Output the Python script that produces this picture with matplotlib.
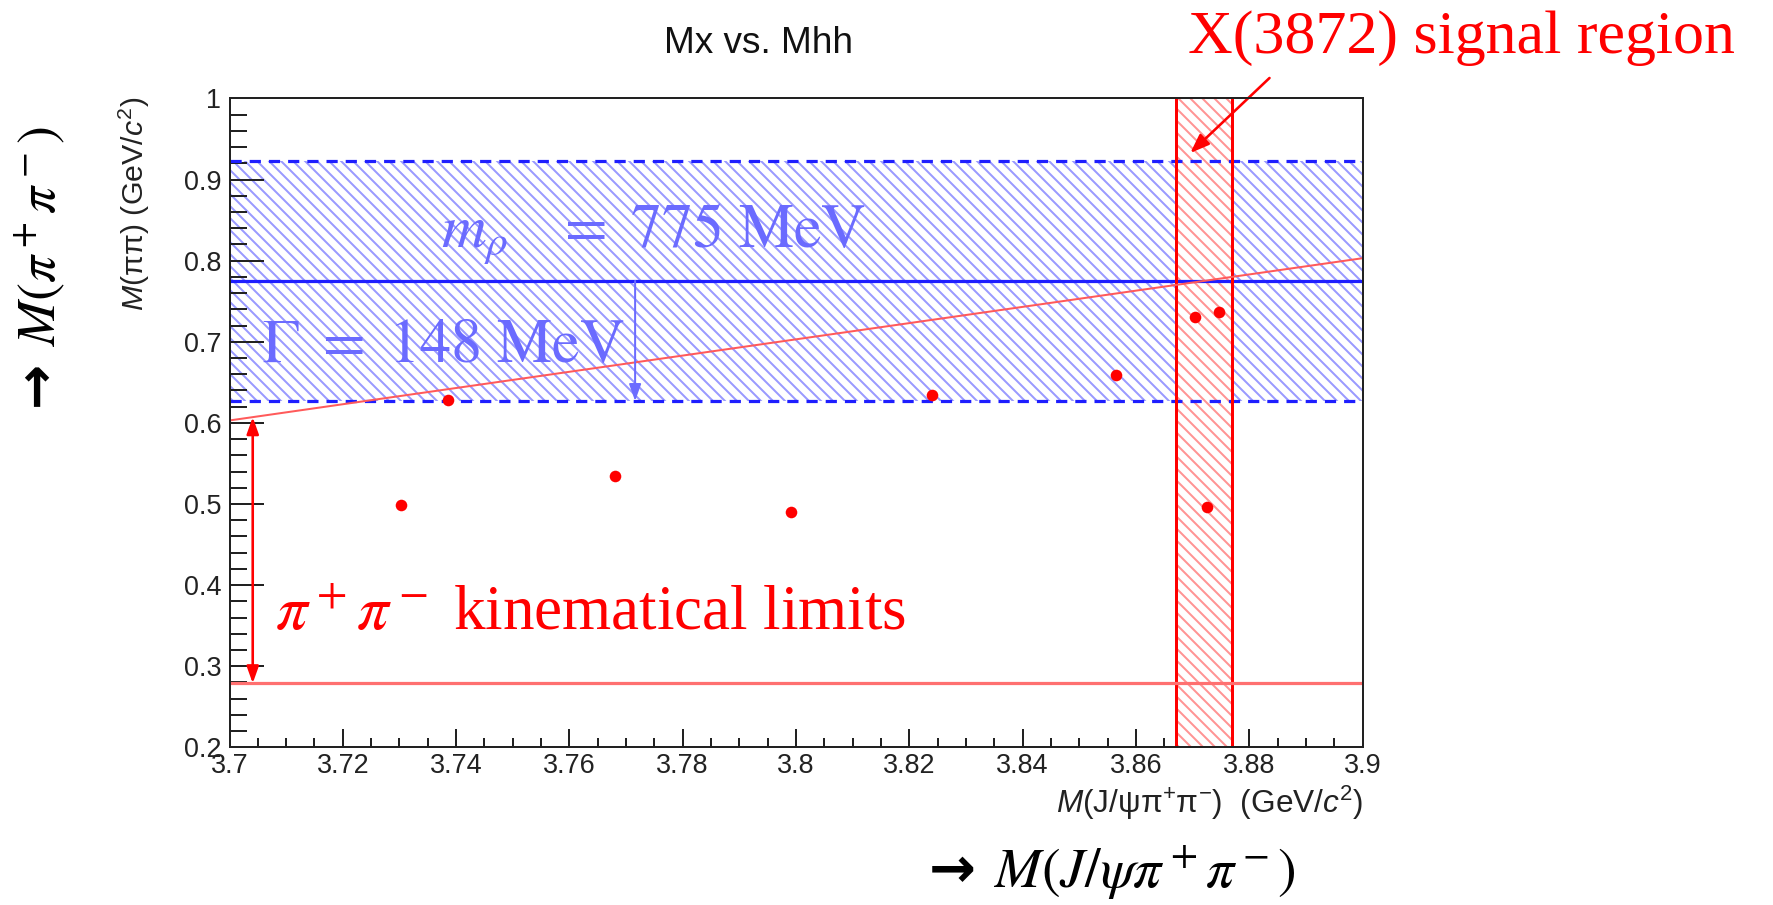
import matplotlib
matplotlib.use("Agg")
import matplotlib.pyplot as plt
from matplotlib.ticker import FixedLocator, MultipleLocator, FixedFormatter
import numpy as np

# ---------------- data ----------------
m_jpsipipi = [3.7303, 3.7386, 3.7680, 3.7991, 3.8240, 3.8565, 3.8704, 3.8746, 3.8725]
m_pipi     = [0.499, 0.628, 0.535, 0.490, 0.634, 0.659, 0.731, 0.737, 0.496]

x_range = [3.70, 3.90]
y_range = [0.20, 1.00]
m_rho = 0.775
gamma_rho = 0.148
m_pipi_min = 0.279
m_jpsi = 3.097
x3872_window = [3.867, 3.877]

x_ticks = [3.70, 3.72, 3.74, 3.76, 3.78, 3.80, 3.82, 3.84, 3.86, 3.88, 3.90]
x_tick_labels = ["3.7", "3.72", "3.74", "3.76", "3.78", "3.8", "3.82", "3.84", "3.86", "3.88", "3.9"]
y_ticks = [0.2, 0.3, 0.4, 0.5, 0.6, 0.7, 0.8, 0.9, 1.0]
y_tick_labels = ["0.2", "0.3", "0.4", "0.5", "0.6", "0.7", "0.8", "0.9", "1"]

title = "Mx vs. Mhh"
x_label = r"$M$(J/ψπ$^{+}$π$^{-}$)  (GeV/$c^{2}$)"
y_label = r"$M$(ππ) (GeV/$c^{2}$)"

# ---------------- style ----------------
plt.rcParams["font.family"] = ["Liberation Sans", "DejaVu Sans"]
plt.rcParams["mathtext.fontset"] = "custom"
plt.rcParams["mathtext.rm"] = "Liberation Sans"
plt.rcParams["mathtext.it"] = "Liberation Sans:italic"
plt.rcParams["mathtext.bf"] = "Liberation Sans:bold"
plt.rcParams["hatch.linewidth"] = 1.0

W, H, DPI = 1773, 905, 144
fig = plt.figure(figsize=(W / DPI, H / DPI), dpi=DPI)
ax = fig.add_axes([229.5 / W, (H - 747.4) / H, 1133 / W, 649 / H])

BLUE = "#1e1eff"
BLUE_HATCH = "#9a9aff"
BLUE_TEXT = "#6b6bff"
RED = "#ff0000"
HATCH = "\\\\\\\\"

# rho band (hatched)
ax.axhspan(m_rho - gamma_rho, m_rho + gamma_rho, facecolor="none",
           edgecolor=BLUE_HATCH, hatch=HATCH, lw=0, zorder=1)
ax.axhline(m_rho, color=BLUE, lw=1.6, zorder=3)
for yv in (m_rho - gamma_rho, m_rho + gamma_rho):
    ax.axhline(yv, color=BLUE, lw=1.6, dashes=(3.5, 2.5), zorder=3)

# X(3872) signal window
ax.axvspan(x3872_window[0], x3872_window[1], facecolor="white",
           edgecolor="#ff9494", hatch=HATCH, lw=0, zorder=2, alpha=1.0)
for xv in x3872_window:
    ax.axvline(xv, color=RED, lw=1.5, zorder=4)

# kinematic limits
xl = np.array(x_range)
ax.plot(xl, xl - m_jpsi, color="#ff5a5a", lw=1.0, zorder=4)
ax.axhline(m_pipi_min, color="#ff7070", lw=1.6, zorder=4)

# data points
ax.plot(m_jpsipipi, m_pipi, "o", color=RED, ms=5.8, mec="none", zorder=6)

ax.set_xlim(x_range)
ax.set_ylim(y_range)

ax.xaxis.set_major_locator(FixedLocator(x_ticks))
ax.xaxis.set_major_formatter(FixedFormatter(x_tick_labels))
ax.xaxis.set_minor_locator(MultipleLocator(0.005))
ax.yaxis.set_major_locator(FixedLocator(y_ticks))
ax.yaxis.set_major_formatter(FixedFormatter(y_tick_labels))
ax.yaxis.set_minor_locator(MultipleLocator(0.02))

ax.tick_params(which="both", direction="in", top=False, right=False,
               color="#222222", width=1.0, labelcolor="#222222", labelsize=13.5)
ax.tick_params(axis="x", which="major", length=9, pad=3)
ax.tick_params(axis="x", which="minor", length=4.5)
ax.tick_params(axis="y", which="major", length=17, pad=4)
ax.tick_params(axis="y", which="minor", length=8.5)
for sp in ax.spines.values():
    sp.set_linewidth(1.0)
    sp.set_color("#222222")
    sp.set_zorder(8)

# titles / axis labels
fig.text(758 / W, 1 - 53 / H, title, ha="center", va="baseline", fontsize=18.5, color="#111111")
fig.text(1363 / W, 1 - 803 / H, x_label, ha="right", va="center", fontsize=15.8, color="#222222")
fig.text(134 / W, 1 - 97 / H, y_label, ha="center", va="top", rotation=90, fontsize=15.2, color="#222222")

# annotations
fig.text(1188 / W, 1 - 53 / H, "X(3872) signal region", ha="left", va="baseline",
         fontsize=31, color=RED, family=["Liberation Serif", "DejaVu Serif"])
fig.text(441 / W, 1 - 247 / H, r"$m_\rho\ \ \ =\ 775\ \mathrm{MeV}$", ha="left", va="baseline",
         fontsize=31, color=BLUE_TEXT, math_fontfamily="stix", zorder=7)
fig.text(262 / W, 1 - 362 / H, r"$\Gamma\ =\ 148\ \mathrm{MeV}$", ha="left", va="baseline",
         fontsize=31, color=BLUE_TEXT, math_fontfamily="stix", zorder=7)
fig.text(275 / W, 1 - 630 / H, r"$\pi^+\pi^-$ kinematical limits", ha="left", va="baseline",
         fontsize=31.5, color=RED, family=["Liberation Serif", "DejaVu Serif"], math_fontfamily="stix")
fig.text(40 / W, 1 - 268 / H, r"→ $M(\pi^+\pi^-)$", ha="center", va="center", rotation=90,
         fontsize=27, color="black", family=["DejaVu Sans"], fontweight="bold", math_fontfamily="stix")
fig.text(928 / W, 1 - 873 / H, r"→ $M(J/\psi\pi^+\pi^-)$", ha="left", va="center",
         fontsize=28, color="black", family=["DejaVu Sans"], fontweight="bold", math_fontfamily="stix")

# arrows
x_gamma_arrow = 3.7716
ax.annotate("", xy=(x_gamma_arrow, m_rho - gamma_rho), xytext=(x_gamma_arrow, m_rho),
            arrowprops=dict(arrowstyle="-|>,head_length=0.7,head_width=0.25", color=BLUE_TEXT,
                            lw=1.0, shrinkA=0, shrinkB=0), zorder=7)
x_kin_arrow = 3.7041
ax.annotate("", xy=(x_kin_arrow, m_pipi_min), xytext=(x_kin_arrow, x_kin_arrow - m_jpsi),
            arrowprops=dict(arrowstyle="<|-|>,head_length=0.7,head_width=0.25", color=RED,
                            lw=1.3, shrinkA=0, shrinkB=0), zorder=7)
ax.annotate("", xy=(3.8696, 0.9327), xycoords="data", xytext=(1269.5, H - 78),
            textcoords="figure pixels",
            arrowprops=dict(arrowstyle="-|>,head_length=0.8,head_width=0.3", color=RED,
                            lw=1.3, shrinkA=0, shrinkB=0), annotation_clip=False, zorder=7)

fig.savefig("out.png", dpi=DPI)
